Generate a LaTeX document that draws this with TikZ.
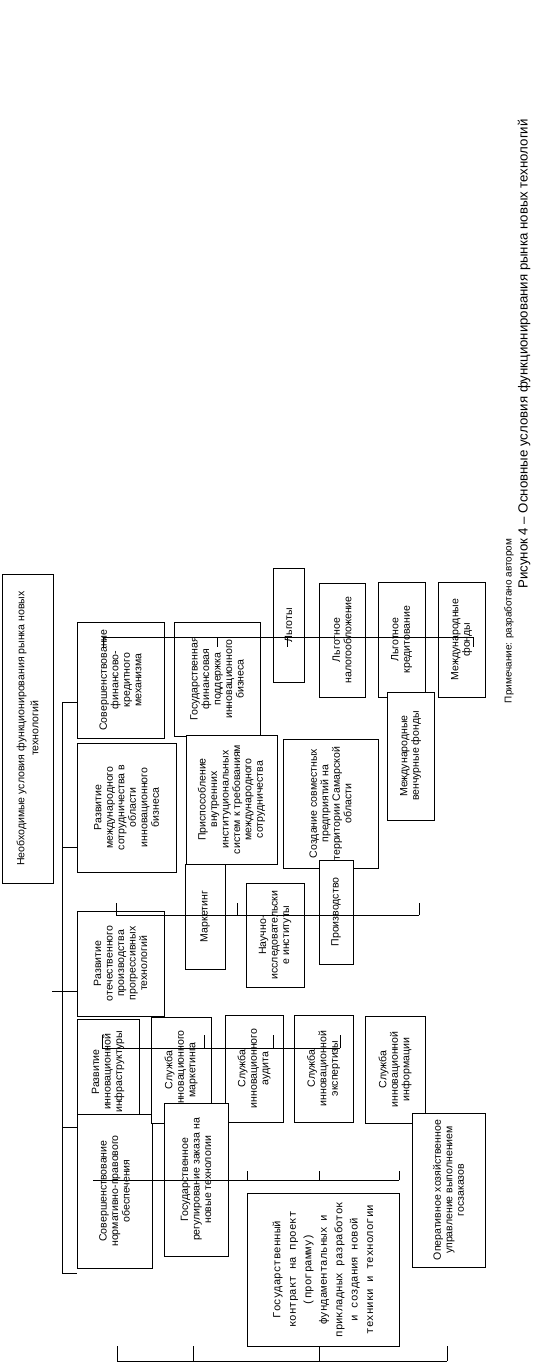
\documentclass[tikz,border=0pt]{standalone}
\usepackage{fontspec}
\setmainfont{Liberation Sans}
\newfontfamily\contractfont{Liberation Mono}
\usetikzlibrary{positioning}

\begin{document}
\begin{tikzpicture}[
    x=0.03cm, y=-0.03cm,
    box/.style={rectangle, draw, fill=white, rotate=90, align=center, inner sep=1pt, line width=0.6pt, font=\fontsize{9}{9.8}\selectfont},
    wh/.style 2 args={minimum height=#1*0.03cm, minimum width=#2*0.03cm},
    link/.style={line width=0.6pt},
    capt/.style={rotate=90, inner sep=0pt}
]
    \useasboundingbox (0,0) rectangle (554,1362);

    \node[box, wh={51}{309}, font=\fontsize{9}{12}\selectfont] (need) at (27.5,728.5) {Необходимые условия функционирования рынка новых\\технологий};

    \node[box, wh={87}{116}] (finmech) at (120.5,680) {Совершенствование\\финансово-\\кредитного\\механизма};
    \node[box, wh={99}{129}] (intcoop) at (126.5,807.5) {Развитие\\международного\\сотрудничества в\\области\\инновационного\\бизнеса};
    \node[box, wh={87}{105}] (domestic) at (120.5,963.5) {Развитие\\отечественного\\производства\\прогрессивных\\технологий};
    \node[box, wh={62}{106}] (infra) at (108,1072) {Развитие\\инновационной\\инфраструктуры};
    \node[box, wh={75}{154}] (normative) at (114.5,1191) {Совершенствование\\нормативно-правового\\обеспечения};

    \node[box, wh={86}{114}] (statefin) at (217,679) {Государственная\\финансовая\\поддержка\\инновационного\\бизнеса};
    \node[box, wh={91}{129}] (adapt) at (231.5,799.5) {Приспособление\\внутренних\\институциональных\\систем к требованиям\\международного\\сотрудничества};
    \node[box, wh={31}{114}] (privil) at (288.5,625) {Льготы};
    \node[box, wh={46}{114}] (taxpriv) at (342,640) {Льготное\\налогообложение};
    \node[box, wh={47}{115}] (credpriv) at (401.5,639.5) {Льготное\\кредитование};
    \node[box, wh={47}{115}] (intfund) at (461.5,639.5) {Международные\\фонды};
    \node[box, wh={47}{128}] (venture) at (410.5,756) {Международные\\венчурные фонды};
    \node[box, wh={95}{129}] (jointvent) at (330.5,803.5) {Создание совместных\\предприятий на\\территории Самарской\\области};

    \node[box, wh={40}{105}] (marketing) at (205,916.5) {Маркетинг};
    \node[box, wh={58}{104}] (research) at (275,935) {Научно-\\исследовательски\\е институты};
    \node[box, wh={34}{104}] (production) at (336,912) {Производство};

    \node[box, wh={60}{106}] (mktsvc) at (181,1070) {Служба\\инновационного\\маркетинга};
    \node[box, wh={58}{107}] (auditsvc) at (254,1068.5) {Служба\\инновационного\\аудита};
    \node[box, wh={59}{107}] (expertsvc) at (323.5,1068.5) {Служба\\инновационной\\экспертизы};
    \node[box, wh={60}{107}] (infosvc) at (395,1069.5) {Служба\\инновационной\\информации};

    \node[box, wh={64}{153}] (stateorder) at (196,1179.5) {Государственное\\регулирование заказа на\\новые технологии};
    \node[box, wh={152}{153}, font=\contractfont\fontsize{9.2}{13.2}\selectfont] (contract) at (323,1269.5) {Государственный\\контракт на проект\\(программу)\\фундаментальных и\\прикладных разработок\\и создания новой\\техники и технологии};
    \node[box, wh={73}{154}] (opmgmt) at (448.5,1190) {Оперативное хозяйственное\\управление выполнением\\госзаказов};

    \node[capt, font=\fontsize{8.5}{10}\selectfont] (note) at (509,621) {Примечание: разработано автором};
    \node[capt, font=\fontsize{11.3}{13}\selectfont] (caption) at (524,354) {Рисунок 4 – Основные условия функционирования рынка новых технологий};

    \coordinate (trunktop) at (62,702);
    \coordinate (trunkend) at (62,1273);
    \draw[link] (trunktop) -- (trunkend);
    \draw[link] (trunktop) -- (trunktop -| finmech.north);
    \draw[link] (62,847) -- (62,847 -| intcoop.north);
    \draw[link] (52,991) -- (52,991 -| domestic.north);
    \draw[link] (62,1127) -- (62,1127 -| normative.north);
    \draw[link] (trunkend) -- (77,1273);

    \coordinate (finl) at (103,637);
    \coordinate (finr) at (473,637);
    \draw[link] (finl) -- (finr);
    \foreach \x in {103,217,287,473}
        \draw[link] (\x,637) -- (\x,647);

    \coordinate (prodl) at (116,915);
    \coordinate (prodr) at (419,915);
    \draw[link] (prodl) -- (prodr);
    \foreach \x in {116,237,419}
        \draw[link] (\x,915) -- (\x,903);

    \coordinate (infl) at (102,1048);
    \coordinate (infr) at (340,1048);
    \draw[link] (infl) -- (infr);
    \foreach \x in {102,204,273,340}
        \draw[link] (\x,1048) -- (\x,1035);

    \coordinate (regl) at (93,1180);
    \coordinate (regr) at (399,1180);
    \draw[link] (regl) -- (regr);
    \foreach \x in {247,319,399}
        \draw[link] (\x,1180) -- (\x,1171);

    \coordinate (basel) at (117,1361);
    \coordinate (baser) at (447,1361);
    \draw[link] (basel) -- (baser);
    \foreach \x in {117,193,319,447}
        \draw[link] (\x,1361) -- (\x,1346);
\end{tikzpicture}
\end{document}
